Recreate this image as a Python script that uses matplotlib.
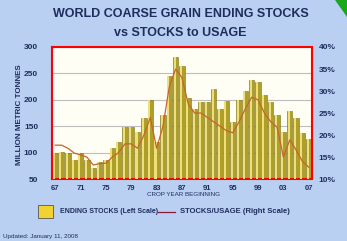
import numpy as np
import matplotlib.pyplot as plt
from matplotlib.patches import Rectangle, Polygon
from matplotlib.lines import Line2D

# crop years 1967..2007
years = list(range(1967, 2008))
stocks = [100, 101, 100, 86, 100, 86, 71, 83, 86, 109,
          120, 149, 149, 140, 166, 200, 120, 172, 245, 281,
          264, 204, 182, 195, 195, 220, 182, 197, 158, 200,
          216, 238, 233, 210, 195, 172, 140, 178, 166, 138, 125]
stocks_to_use = [17.7, 17.7, 17.0, 15.9, 15.5, 15.0, 13.2, 13.5, 13.6, 15.0,
                 16.0, 18.0, 18.0, 17.0, 20.0, 24.0, 17.0, 22.0, 31.0, 35.0,
                 33.0, 27.0, 25.0, 25.0, 24.0, 23.0, 22.0, 21.0, 20.5, 23.0,
                 26.0, 28.6, 28.0, 25.0, 23.0, 21.8, 15.0, 18.9, 16.6, 14.0, 12.7]
tick_years = ['67', '71', '75', '79', '83', '87', '91', '95', '99', '03', '07']

navy = '#1e2d5c'
plt.rcParams['font.family'] = ['Liberation Sans', 'DejaVu Sans']

fig = plt.figure(figsize=(3.47, 2.41), dpi=100)
fig.patch.set_facecolor('#b9d0f2')

ax = fig.add_axes([0.150, 0.257, 0.749, 0.548])
ax.set_facecolor('#fffef4')
x = np.arange(len(years))

ax.bar(x, stocks, width=0.85, color='#ad9f2a', edgecolor='#7f731a', linewidth=0.4, zorder=2)
ax.bar(x - 0.18, stocks, width=0.32, color='#eedf78', linewidth=0, zorder=3)
ax.set_ylim(50, 300)
ax.set_xlim(-0.5, len(years) - 0.5)
ax.set_yticks([50, 100, 150, 200, 250, 300])
ax.yaxis.grid(True, color='#bdbdbd', linewidth=0.8, zorder=0)
ax.set_axisbelow(True)
ax.set_xticks(x[::4])
ax.set_xticklabels(tick_years)
ax.tick_params(axis='both', length=0, labelsize=5.5, labelcolor=navy)
ax.tick_params(axis='y', labelsize=6, pad=10)
ax.tick_params(axis='x', pad=4)
for lab in ax.get_xticklabels() + ax.get_yticklabels():
    lab.set_fontweight('bold')
for s in ax.spines.values():
    s.set_color('#ff0000')
    s.set_linewidth(1.5)

ax2 = ax.twinx()
ax2.plot(x, stocks_to_use, color='#c8642a', linewidth=0.9, zorder=5)
ax2.set_ylim(10, 40)
ax2.set_yticks([10, 15, 20, 25, 30, 35, 40])
ax2.set_yticklabels([f'{v}%' for v in [10, 15, 20, 25, 30, 35, 40]])
ax2.tick_params(axis='y', length=0, labelsize=6, labelcolor=navy, pad=5)
for lab in ax2.get_yticklabels():
    lab.set_fontweight('bold')
for s in ax2.spines.values():
    s.set_visible(False)

fig.text(0.52, 0.94, 'WORLD COARSE GRAIN ENDING STOCKS', ha='center', va='center',
         fontsize=9, fontweight='bold', color=navy)
fig.text(0.52, 0.862, 'vs STOCKS to USAGE', ha='center', va='center',
         fontsize=9, fontweight='bold', color=navy)
fig.text(0.055, 0.525, 'MILLION METRIC TONNES', rotation=90, ha='center', va='center',
         fontsize=5.8, fontweight='bold', color=navy)
fig.text(0.53, 0.195, 'CROP YEAR BEGINNING', ha='center', va='center',
         fontsize=4.5, color=navy)

# legend
fig.patches.append(Rectangle((0.11, 0.095), 0.042, 0.055, transform=fig.transFigure,
                             facecolor='#f2d230', edgecolor='#555555', linewidth=0.6))
fig.text(0.172, 0.122, 'ENDING STOCKS (Left Scale)', ha='left', va='center',
         fontsize=5, fontweight='bold', color=navy)
fig.lines.append(Line2D([0.455, 0.505], [0.122, 0.122], transform=fig.transFigure,
                        color='#8b1a3a', linewidth=0.9))
fig.text(0.52, 0.122, 'STOCKS/USAGE (Right Scale)', ha='left', va='center',
         fontsize=5.5, fontweight='bold', color=navy)
fig.text(0.01, 0.02, 'Updated: January 11, 2008', ha='left', va='center',
         fontsize=4.5, color=navy)

fig.patches.append(Polygon([(0.965, 1.0), (1.0, 1.0), (1.0, 0.93)], closed=True,
                           transform=fig.transFigure, facecolor='#19a81c', edgecolor='none'))

fig.savefig('out.png', dpi=100, facecolor=fig.get_facecolor())
